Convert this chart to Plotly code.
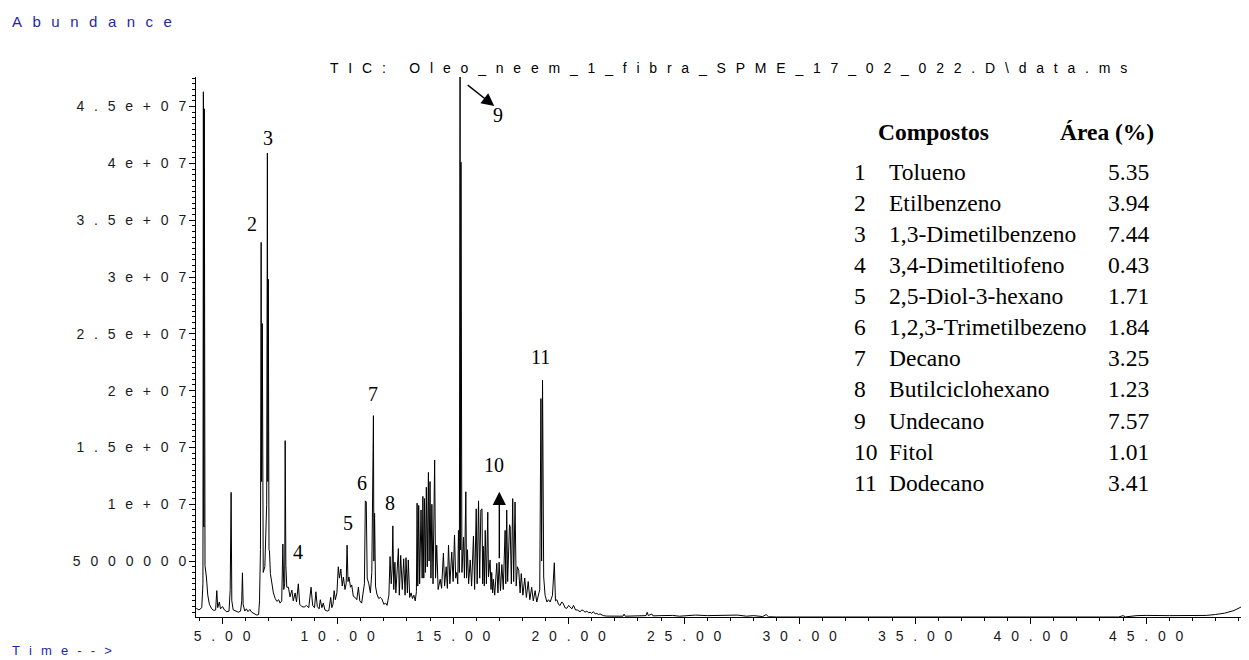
import plotly.graph_objects as go

# ---------------- data (retention time in min, abundance in counts) ----------------
tic_early = [
    (3.88, 0.85e6), (4.00, 0.70e6), (4.12, 0.90e6), (4.17, 3.0e6), (4.19, 46.3e6), (4.21, 8.0e6),
    (4.23, 44.8e6), (4.26, 4.6e6), (4.32, 3.6e6), (4.38, 2.0e6), (4.45, 1.2e6), (4.55, 0.8e6),
    (4.65, 0.65e6), (4.72, 0.7e6), (4.77, 2.4e6), (4.81, 0.9e6), (4.88, 1.4e6), (4.93, 0.8e6),
    (5.02, 1.0e6), (5.10, 0.7e6), (5.20, 0.55e6), (5.30, 0.6e6), (5.35, 2.5e6), (5.39, 11.05e6),
    (5.42, 1.5e6), (5.48, 0.7e6), (5.60, 0.6e6), (5.70, 0.5e6), (5.80, 0.6e6), (5.85, 1.5e6),
    (5.88, 3.97e6), (5.91, 1.2e6), (5.98, 0.6e6), (6.05, 0.8e6), (6.12, 0.55e6), (6.20, 0.75e6),
    (6.28, 0.5e6), (6.40, 0.35e6), (6.50, 0.25e6), (6.58, 0.3e6), (6.62, 1.5e6), (6.66, 6.0e6),
    (6.69, 33.05e6), (6.71, 12.0e6), (6.74, 25.9e6), (6.78, 4.0e6), (6.85, 4.5e6), (6.93, 10.0e6),
    (6.96, 40.9e6), (6.98, 12.0e6), (7.00, 29.8e6), (7.03, 6.0e6), (7.05, 5.9e6), (7.09, 3.9e6),
    (7.15, 3.0e6), (7.22, 2.2e6), (7.30, 1.7e6), (7.37, 1.45e6), (7.45, 1.6e6), (7.51, 1.3e6),
    (7.58, 1.5e6), (7.63, 6.5e6), (7.67, 2.5e6), (7.71, 3.0e6), (7.73, 15.6e6), (7.76, 4.6e6),
    (7.80, 2.7e6),
]

tic_middle = [
    (7.87, 2.7e6), (7.94, 1.85e6), (8.02, 2.45e6), (8.08, 1.5e6), (8.16, 2.2e6), (8.22, 1.4e6),
    (8.30, 3.0e6), (8.36, 1.2e6), (8.45, 1.0e6), (8.55, 0.95e6), (8.65, 1.1e6), (8.75, 0.9e6),
    (8.85, 2.7e6), (8.92, 1.1e6), (9.00, 0.9e6), (9.06, 2.3e6), (9.12, 1.0e6), (9.20, 0.8e6),
    (9.25, 1.6e6), (9.32, 0.9e6), (9.38, 1.3e6), (9.45, 0.7e6), (9.55, 0.6e6), (9.62, 0.65e6),
    (9.70, 1.8e6), (9.75, 0.9e6), (9.80, 1.2e6), (9.85, 2.4e6), (9.90, 1.6e6), (9.97, 2.2e6),
    (10.03, 4.5e6), (10.08, 3.5e6), (10.14, 4.3e6), (10.20, 2.8e6), (10.25, 3.6e6), (10.32, 2.5e6),
    (10.37, 3.0e6), (10.41, 6.4e6), (10.45, 3.2e6), (10.49, 3.6e6), (10.56, 2.7e6), (10.61, 2.9e6),
    (10.68, 1.9e6), (10.76, 1.8e6), (10.83, 1.6e6), (10.90, 2.7e6), (10.96, 1.5e6), (11.04, 1.3e6),
    (11.10, 2.0e6), (11.16, 3.0e6), (11.20, 10.3e6), (11.24, 10.2e6), (11.28, 3.5e6), (11.35, 3.0e6),
    (11.42, 2.2e6), (11.48, 4.0e6), (11.55, 17.8e6), (11.57, 5.0e6), (11.60, 9.2e6), (11.64, 2.8e6),
    (11.70, 2.1e6), (11.78, 1.7e6), (11.85, 1.8e6), (11.91, 1.7e6), (12.00, 1.2e6), (12.08, 1.3e6),
    (12.14, 1.1e6), (12.22, 2.0e6), (12.27, 5.4e6), (12.32, 3.0e6), (12.36, 4.3e6), (12.39, 8.1e6),
    (12.43, 2.5e6), (12.48, 4.9e6), (12.52, 2.2e6), (12.58, 5.0e6), (12.63, 6.1e6), (12.67, 2.0e6),
    (12.73, 5.5e6), (12.80, 2.5e6), (12.86, 5.2e6), (12.92, 2.0e6), (12.96, 5.3e6), (13.02, 2.2e6),
    (13.06, 5.1e6), (13.12, 1.8e6), (13.18, 2.2e6), (13.24, 1.7e6), (13.30, 2.0e6), (13.36, 1.5e6),
    (13.41, 2.3e6), (13.44, 10.1e6), (13.47, 2.8e6), (13.51, 9.9e6), (13.55, 3.0e6), (13.61, 9.5e6),
    (13.66, 3.5e6), (13.69, 10.7e6), (13.73, 3.5e6), (13.76, 10.5e6), (13.80, 4.0e6), (13.84, 11.5e6),
    (13.88, 4.5e6), (13.93, 12.8e6), (13.96, 5.0e6), (14.00, 12.0e6), (14.04, 3.5e6), (14.08, 10.0e6),
    (14.13, 3.0e6), (14.20, 13.9e6), (14.24, 3.5e6), (14.29, 6.4e6), (14.35, 2.5e6), (14.44, 3.4e6),
    (14.50, 2.6e6), (14.58, 5.7e6), (14.63, 2.8e6), (14.70, 4.5e6), (14.75, 2.6e6), (14.80, 6.4e6),
    (14.86, 3.0e6), (14.94, 5.8e6), (15.00, 3.2e6), (15.06, 7.3e6), (15.11, 3.5e6), (15.16, 4.0e6),
    (15.20, 3.0e6), (15.23, 7.7e6), (15.27, 4.0e6), (15.30, 48.5e6), (15.32, 6.0e6), (15.34, 40.1e6),
    (15.38, 4.0e6), (15.45, 7.1e6), (15.49, 3.5e6), (15.55, 11.1e6), (15.58, 3.5e6), (15.62, 6.0e6),
    (15.67, 3.0e6), (15.74, 5.1e6), (15.80, 2.8e6), (15.88, 7.2e6), (15.93, 2.5e6), (16.00, 9.6e6),
    (16.04, 3.0e6), (16.10, 10.3e6), (16.15, 3.5e6), (16.20, 9.5e6), (16.25, 9.6e6), (16.28, 3.0e6),
    (16.31, 6.3e6), (16.35, 2.8e6), (16.39, 7.7e6), (16.44, 3.0e6), (16.50, 9.3e6), (16.53, 3.6e6),
    (16.60, 5.1e6), (16.64, 2.5e6), (16.67, 4.0e6), (16.71, 2.2e6), (16.74, 3.4e6), (16.80, 2.0e6),
    (16.89, 4.8e6), (16.94, 2.2e6), (16.99, 4.9e6), (17.05, 2.4e6), (17.11, 4.7e6), (17.17, 2.5e6),
    (17.25, 7.7e6), (17.28, 3.0e6), (17.32, 9.5e6), (17.36, 3.2e6), (17.44, 8.2e6), (17.47, 8.0e6),
    (17.52, 3.0e6), (17.58, 10.5e6), (17.62, 3.2e6), (17.68, 10.2e6), (17.73, 2.8e6), (17.78, 4.5e6),
    (17.84, 4.2e6), (17.90, 2.2e6), (17.95, 3.9e6), (18.02, 2.0e6), (18.10, 3.5e6), (18.17, 1.8e6),
    (18.25, 3.2e6), (18.32, 1.6e6), (18.40, 2.7e6), (18.47, 1.5e6), (18.55, 2.4e6), (18.62, 1.4e6),
    (18.68, 1.9e6), (18.75, 2.5e6), (18.80, 19.3e6), (18.83, 5.0e6), (18.87, 20.9e6), (18.92, 3.6e6),
    (18.98, 2.0e6), (19.06, 1.4e6), (19.13, 1.6e6), (19.20, 1.4e6), (19.30, 2.0e6), (19.38, 4.85e6),
    (19.43, 1.5e6), (19.49, 1.6e6), (19.56, 1.2e6), (19.63, 1.1e6), (19.70, 1.4e6), (19.76, 1.3e6),
    (19.84, 0.9e6), (19.92, 0.84e6), (20.00, 1.1e6), (20.06, 1.0e6), (20.14, 0.8e6), (20.21, 1.1e6),
    (20.30, 0.7e6), (20.37, 0.7e6), (20.44, 0.6e6), (20.50, 0.54e6), (20.57, 0.7e6), (20.63, 0.65e6),
    (20.71, 0.5e6), (20.79, 0.6e6), (20.86, 0.45e6), (20.93, 0.5e6), (21.00, 0.4e6), (21.07, 0.55e6),
    (21.15, 0.35e6), (21.22, 0.4e6), (21.29, 0.3e6), (21.36, 0.35e6), (21.45, 0.25e6), (21.51, 0.2e6),
    (21.65, 0.16e6),
]

tic_late = [
    (22.0, 0.15e6), (22.35, 0.15e6), (22.4, 0.33e6), (22.45, 0.15e6), (23.0, 0.18e6), (23.35, 0.2e6),
    (23.4, 0.5e6), (23.45, 0.2e6), (23.6, 0.35e6), (23.65, 0.18e6), (24.0, 0.2e6), (24.5, 0.22e6),
    (24.8, 0.15e6), (25.0, 0.18e6), (25.5, 0.25e6), (26.0, 0.2e6), (26.5, 0.22e6), (27.0, 0.18e6),
    (27.3, 0.25e6), (27.7, 0.15e6), (28.0, 0.2e6), (28.4, 0.12e6), (28.55, 0.3e6), (28.65, 0.1e6),
    (29.0, 0.08e6), (35.0, 0.08e6), (40.0, 0.08e6), (43.8, 0.08e6), (44.0, 0.2e6), (44.1, 0.09e6),
    (44.6, 0.2e6), (45.0, 0.22e6), (46.0, 0.2e6), (47.0, 0.2e6), (47.6, 0.22e6), (48.0, 0.3e6),
    (48.4, 0.42e6), (48.8, 0.65e6), (49.1, 0.95e6), (49.3, 1.25e6), (49.5, 1.75e6),
]

x_tick_values = [5, 10, 15, 20, 25, 30, 35, 40, 45]
x_tick_labels = ["5.00", "10.00", "15.00", "20.00", "25.00", "30.00", "35.00", "40.00", "45.00"]
y_tick_values = [5e6, 10e6, 15e6, 20e6, 25e6, 30e6, 35e6, 40e6, 45e6]
y_tick_labels = ["5000000", "1e+07", "1.5e+07", "2e+07", "2.5e+07", "3e+07", "3.5e+07", "4e+07", "4.5e+07"]

peak_labels = ["1", "2", "3", "4", "5", "6", "7", "8", "9", "10", "11"]
peak_label_time = [4.29, 6.29, 6.98, 8.28, 10.47, 11.05, 11.55, 12.27, 16.93, 16.75, 18.80]
peak_label_abund = [48.1e6, 34.66e6, 42.2e6, 5.83e6, 8.33e6, 11.85e6, 19.7e6, 10.14e6, 44.26e6, 13.46e6, 22.93e6]

compound_ids = ["1", "2", "3", "4", "5", "6", "7", "8", "9", "10", "11"]
compound_names = ["Tolueno", "Etilbenzeno", "1,3-Dimetilbenzeno", "3,4-Dimetiltiofeno",
                  "2,5-Diol-3-hexano", "1,2,3-Trimetilbezeno", "Decano", "Butilciclohexano",
                  "Undecano", "Fitol", "Dodecano"]
area_percent = ["5.35", "3.94", "7.44", "0.43", "1.71", "1.84", "3.25", "1.23", "7.57", "1.01", "3.41"]

title_text = "TIC: Oleo_neem_1_fibra_SPME_17_02_022.D\\data.ms"

# ---------------- build ----------------
points = tic_early + tic_middle + tic_late
rt = [p[0] for p in points]
ab = [p[1] for p in points]

# the page body has an 8 px margin; the figure starts at (8, 8) in the window
OFF = 8
W, H = 1249 - OFF, 660 - OFF
ML, MR, MT, MB = 196 - OFF, 0, 77 - OFF, 43
PW, PH = W - ML - MR, H - MT - MB


def px_x(px):
    """window pixel x -> paper coordinate"""
    return (px - OFF - ML) / PW


def px_y(py):
    """window pixel y -> paper coordinate"""
    return (H - MB - (py - OFF)) / PH


GAP = "\u2002\u2009"


def spaced(s, gap=GAP):
    return gap.join(list(s))


SANS = "Liberation Sans, Arial, sans-serif"
SERIF = "Liberation Serif, Times New Roman, serif"
BLUE = "#2626a6"
TICK_COL = "#1a1a1a"

fig = go.Figure()
fig.add_trace(go.Scatter(x=rt, y=ab, mode="lines",
                         line=dict(color="black", width=1), hoverinfo="skip"))

fig.update_layout(
    width=W, height=H,
    margin=dict(l=ML, r=MR, t=MT, b=MB, pad=0),
    paper_bgcolor="white", plot_bgcolor="white",
    showlegend=False,
    xaxis=dict(
        range=[3.87, 49.45], showgrid=False, zeroline=False,
        showline=True, linecolor="black", linewidth=1,
        ticks="outside", ticklen=6, tickwidth=1, tickcolor="black",
        tickmode="array", tickvals=x_tick_values,
        ticktext=[spaced(t) for t in x_tick_labels],
        tickfont=dict(family=SANS, size=14, color=TICK_COL),
        minor=dict(tickmode="linear", tick0=0, dtick=1, ticks="outside",
                   ticklen=3, tickcolor="black", showgrid=False),
    ),
    yaxis=dict(
        range=[0.08e6, 47.6e6], showgrid=False, zeroline=False,
        showline=True, linecolor="black", linewidth=1,
        ticks="outside", ticklen=6, tickwidth=1, tickcolor="black",
        tickmode="array", tickvals=y_tick_values,
        ticktext=[spaced(t) for t in y_tick_labels],
        tickfont=dict(family=SANS, size=14, color=TICK_COL),
        minor=dict(tickmode="linear", tick0=0, dtick=5e5, ticks="outside",
                   ticklen=3, tickcolor="black", showgrid=False),
    ),
)

ann = []
# axis captions and title
ann.append(dict(text=spaced("Abundance"), xref="paper", yref="paper",
                x=px_x(10), y=px_y(22), xanchor="left", yanchor="middle", showarrow=False,
                font=dict(family=SANS, size=15, color=BLUE)))
ann.append(dict(text=spaced("Time-->"), xref="paper", yref="paper",
                x=px_x(10), y=px_y(650), xanchor="left", yanchor="middle", showarrow=False,
                font=dict(family=SANS, size=13, color=BLUE)))
ann.append(dict(text=spaced(title_text), xref="paper", yref="paper",
                x=px_x(728), y=px_y(68), xanchor="center", yanchor="middle", showarrow=False,
                font=dict(family=SANS, size=14, color="black")))

# peak labels
for lab, t, a in zip(peak_labels, peak_label_time, peak_label_abund):
    ann.append(dict(text=lab, x=t, y=a, xref="x", yref="y", showarrow=False,
                    xanchor="center", yanchor="middle",
                    font=dict(family=SERIF, size=20, color="black")))

# arrows
ann.append(dict(text="", x=16.78, y=45.05e6, xref="x", yref="y", showarrow=True,
                ax=-28, ay=-22, axref="pixel", ayref="pixel",
                arrowhead=2, arrowsize=1.8, arrowwidth=1.4, arrowcolor="black"))
ann.append(dict(text="", x=17.0, y=11.11e6, xref="x", yref="y", showarrow=True,
                ax=0, ay=68, axref="pixel", ayref="pixel",
                arrowhead=2, arrowsize=1.9, arrowwidth=1.4, arrowcolor="black"))

# compounds table
hdr_y = 132.5
ann.append(dict(text="<b>Compostos</b>", xref="paper", yref="paper", x=px_x(876), y=px_y(hdr_y),
                xanchor="left", yanchor="middle", showarrow=False,
                font=dict(family=SERIF, size=23.5, color="black")))
ann.append(dict(text="<b>Área (%)</b>", xref="paper", yref="paper", x=px_x(1058), y=px_y(hdr_y),
                xanchor="left", yanchor="middle", showarrow=False,
                font=dict(family=SERIF, size=23.5, color="black")))
row0, step = 171.7, 31.1
for i, (cid, name, val) in enumerate(zip(compound_ids, compound_names, area_percent)):
    yy = px_y(row0 + i * step)
    for txt, xx in ((cid, 851.5), (name, 886.5), (val, 1106)):
        ann.append(dict(text=txt, xref="paper", yref="paper", x=px_x(xx), y=yy,
                        xanchor="left", yanchor="middle", showarrow=False,
                        font=dict(family=SERIF, size=23.5, color="black")))

fig.update_layout(annotations=ann)
fig.write_html("out.html")
